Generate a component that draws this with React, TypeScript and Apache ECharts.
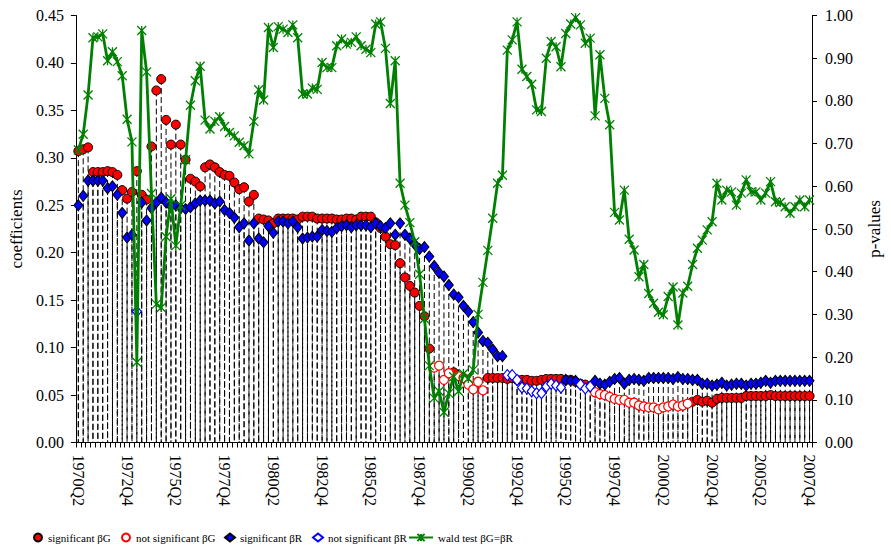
import React, { useEffect, useRef } from "react";
import * as echarts from "echarts";

// ---- categories: quarters 1970Q2 .. 2007Q4 ----
const FIRST_YEAR = 1970;
const FIRST_QUARTER = 2;
const N_QUARTERS = 151;
const quarters: string[] = [];
for (let k = 0; k < N_QUARTERS; k++) {
  const q = FIRST_QUARTER - 1 + k;
  quarters.push(`${FIRST_YEAR + Math.floor(q / 4)}Q${(q % 4) + 1}`);
}

// ---- coefficient beta G ----
const betaG: number[] = [
  0.307, 0.309, 0.311, 0.285, 0.285, 0.285, 0.286, 0.285, 0.282, 0.266,
  0.257, 0.264, 0.286, 0.261, 0.256, 0.312, 0.371, 0.383, 0.340, 0.314,
  0.335, 0.314, 0.298, 0.278, 0.275, 0.270, 0.290, 0.293, 0.290, 0.285,
  0.282, 0.281, 0.274, 0.267, 0.269, 0.254, 0.261, 0.236, 0.235, 0.234,
  0.231, 0.236, 0.236, 0.236, 0.236, 0.235, 0.238, 0.238, 0.238, 0.236,
  0.236, 0.236, 0.236, 0.235, 0.235, 0.236, 0.236, 0.235, 0.238, 0.238,
  0.238, 0.232, 0.226, 0.217, 0.209, 0.208, 0.189, 0.174, 0.165, 0.158,
  0.144, 0.133, 0.099, 0.079, 0.081, 0.066, 0.073, 0.074, 0.070, 0.068,
  0.061, 0.056, 0.064, 0.055, 0.068, 0.068, 0.068, 0.068, 0.067, 0.068,
  0.066, 0.066, 0.066, 0.065, 0.065, 0.066, 0.067, 0.067, 0.067, 0.067,
  0.066, 0.066, 0.064, 0.062, 0.061, 0.059, 0.053, 0.051, 0.050, 0.048,
  0.046, 0.045, 0.045, 0.042, 0.042, 0.039, 0.038, 0.037, 0.037, 0.035,
  0.037, 0.038, 0.040, 0.038, 0.039, 0.041, 0.043, 0.045, 0.043, 0.044,
  0.042, 0.046, 0.047, 0.047, 0.047, 0.047, 0.047, 0.049, 0.049, 0.049,
  0.049, 0.049, 0.050, 0.049, 0.049, 0.049, 0.049, 0.049, 0.049, 0.049,
  0.049,
];
const notSignificantG: number[] = [
  73, 74, 75, 76, 78, 79, 80, 81, 82, 83,
  106, 107, 108, 109, 110, 111, 112, 113, 114, 115,
  116, 117, 118, 119, 120, 121, 122, 123, 124, 125,
];

// ---- coefficient beta R ----
const betaR: number[] = [
  0.250, 0.260, 0.276, 0.276, 0.276, 0.276, 0.268, 0.270, 0.261, 0.242,
  0.216, 0.219, 0.138, 0.253, 0.234, 0.247, 0.253, 0.258, 0.253, 0.249,
  0.250, 0.247, 0.246, 0.248, 0.252, 0.255, 0.255, 0.255, 0.252, 0.254,
  0.245, 0.242, 0.237, 0.227, 0.231, 0.213, 0.231, 0.215, 0.211, 0.228,
  0.221, 0.233, 0.233, 0.231, 0.233, 0.227, 0.215, 0.216, 0.217, 0.217,
  0.224, 0.223, 0.222, 0.226, 0.228, 0.229, 0.227, 0.229, 0.229, 0.229,
  0.227, 0.231, 0.228, 0.226, 0.231, 0.219, 0.231, 0.219, 0.215, 0.209,
  0.204, 0.206, 0.196, 0.186, 0.179, 0.175, 0.166, 0.156, 0.153, 0.144,
  0.138, 0.127, 0.116, 0.107, 0.105, 0.098, 0.091, 0.091, 0.071, 0.071,
  0.066, 0.058, 0.057, 0.054, 0.052, 0.052, 0.059, 0.062, 0.060, 0.058,
  0.066, 0.065, 0.065, 0.061, 0.057, 0.059, 0.065, 0.062, 0.061, 0.064,
  0.067, 0.068, 0.062, 0.066, 0.067, 0.066, 0.065, 0.068, 0.068, 0.068,
  0.068, 0.068, 0.067, 0.069, 0.067, 0.067, 0.066, 0.066, 0.062, 0.062,
  0.060, 0.061, 0.063, 0.060, 0.061, 0.062, 0.062, 0.060, 0.062, 0.062,
  0.063, 0.065, 0.063, 0.065, 0.065, 0.065, 0.065, 0.065, 0.065, 0.065,
  0.065,
];
const notSignificantR: number[] = [
  12, 88, 89, 90, 91, 92, 93, 94, 95, 96, 97, 98, 99, 103, 104, 105,
];

// ---- wald test p-values ----
const waldP: number[] = [
  0.685, 0.722, 0.814, 0.948, 0.950, 0.957, 0.894, 0.915, 0.892, 0.859,
  0.757, 0.704, 0.188, 0.965, 0.868, 0.583, 0.324, 0.316, 0.482, 0.571,
  0.461, 0.555, 0.662, 0.790, 0.847, 0.881, 0.755, 0.734, 0.752, 0.763,
  0.740, 0.726, 0.718, 0.703, 0.695, 0.676, 0.752, 0.826, 0.802, 0.972,
  0.925, 0.974, 0.968, 0.960, 0.978, 0.948, 0.816, 0.816, 0.830, 0.827,
  0.890, 0.878, 0.878, 0.929, 0.945, 0.933, 0.937, 0.950, 0.929, 0.921,
  0.913, 0.980, 0.985, 0.923, 0.794, 0.894, 0.607, 0.556, 0.515, 0.470,
  0.394, 0.290, 0.180, 0.104, 0.120, 0.071, 0.115, 0.154, 0.120, 0.161,
  0.150, 0.170, 0.300, 0.375, 0.450, 0.525, 0.607, 0.626, 0.919, 0.943,
  0.985, 0.874, 0.857, 0.839, 0.779, 0.775, 0.900, 0.939, 0.927, 0.880,
  0.958, 0.980, 0.995, 0.978, 0.935, 0.947, 0.765, 0.908, 0.806, 0.744,
  0.539, 0.521, 0.591, 0.476, 0.451, 0.388, 0.417, 0.349, 0.326, 0.305,
  0.299, 0.342, 0.364, 0.275, 0.350, 0.366, 0.417, 0.455, 0.474, 0.498,
  0.517, 0.607, 0.568, 0.591, 0.587, 0.556, 0.584, 0.615, 0.587, 0.587,
  0.568, 0.584, 0.611, 0.564, 0.562, 0.552, 0.537, 0.552, 0.568, 0.552,
  0.568,
];

const NAMES = {
  sigG: "significant βG",
  nsG: "not significant βG",
  sigR: "significant βR",
  nsR: "not significant βR",
  wald: "wald test βG=βR",
};

const SERIF = "'Liberation Serif', 'Times New Roman', serif";
const STAR = "path://M0,0L10,10M10,0L0,10M5,0L5,10";

export default function App() {
  const ref = useRef<HTMLDivElement>(null);

  useEffect(() => {
    if (!ref.current) return;
    const chart = echarts.init(ref.current, null, { renderer: "svg" });

    const nsGSet = new Set(notSignificantG);
    const nsRSet = new Set(notSignificantR);
    const sigG = betaG.map((v, i) => (nsGSet.has(i) ? "-" : v));
    const nsG = betaG.map((v, i) => (nsGSet.has(i) ? v : "-"));
    const sigR = betaR.map((v, i) => (nsRSet.has(i) ? "-" : v));
    const nsR = betaR.map((v, i) => (nsRSet.has(i) ? v : "-"));

    const legendBase = {
      orient: "horizontal",
      top: 532,
      padding: 0,
      itemHeight: 8,
      itemWidth: 10,
      itemGap: 0,
      textStyle: { fontFamily: SERIF, fontSize: 11, color: "#000" },
      selectedMode: false,
    };

    const option: any = {
      animation: false,
      backgroundColor: "#fff",
      grid: { left: 75, right: 69, top: 15.5, bottom: 110.5, containLabel: false },
      legend: [
        { ...legendBase, left: 33, data: [NAMES.sigG] },
        { ...legendBase, left: 121, data: [NAMES.nsG] },
        { ...legendBase, left: 224, data: [NAMES.sigR] },
        { ...legendBase, left: 312, data: [NAMES.nsR] },
        { ...legendBase, left: 408, itemWidth: 24, itemHeight: 9, data: [NAMES.wald] },
      ],
      xAxis: {
        type: "category",
        data: quarters,
        boundaryGap: true,
        axisLine: { lineStyle: { color: "#000", width: 1 } },
        axisTick: { show: true, interval: 0, length: 5, lineStyle: { color: "#000" } },
        axisLabel: {
          interval: (i: number) => i % 10 === 0,
          rotate: -90,
          margin: 12,
          fontFamily: SERIF,
          fontSize: 16,
          color: "#000",
        },
        splitLine: { show: false },
      },
      yAxis: [
        {
          type: "value",
          position: "left",
          min: 0,
          max: 0.45,
          interval: 0.05,
          name: "coefficients",
          nameLocation: "middle",
          nameRotate: 90,
          nameGap: 46,
          nameTextStyle: { fontFamily: SERIF, fontSize: 17, color: "#000" },
          axisLine: { show: true, lineStyle: { color: "#000" } },
          axisTick: { show: true, length: 5, lineStyle: { color: "#000" } },
          axisLabel: {
            formatter: (v: number) => v.toFixed(2),
            margin: 12,
            fontFamily: SERIF,
            fontSize: 16,
            color: "#000",
          },
          splitLine: { show: false },
        },
        {
          type: "value",
          position: "right",
          min: 0,
          max: 1,
          interval: 0.1,
          name: "p-values",
          nameLocation: "middle",
          nameRotate: 90,
          nameGap: 54,
          nameTextStyle: { fontFamily: SERIF, fontSize: 17, color: "#000" },
          axisLine: { show: true, lineStyle: { color: "#000" } },
          axisTick: { show: true, length: 5, lineStyle: { color: "#000" } },
          axisLabel: {
            formatter: (v: number) => v.toFixed(2),
            margin: 13,
            fontFamily: SERIF,
            fontSize: 16,
            color: "#000",
          },
          splitLine: { show: false },
        },
      ],
      series: [
        {
          type: "custom",
          name: "drop lines",
          silent: true,
          z: 1,
          yAxisIndex: 0,
          data: betaG.map((g, i) => [i, g, betaR[i]]),
          encode: { x: 0, y: [1, 2] },
          renderItem: (_params: any, api: any) => {
            const i = api.value(0);
            const p0 = api.coord([i, 0]);
            const pg = api.coord([i, api.value(1)]);
            const pr = api.coord([i, api.value(2)]);
            return {
              type: "group",
              children: [
                {
                  type: "line",
                  shape: { x1: pg[0], y1: pg[1], x2: p0[0], y2: p0[1] },
                  style: { stroke: "#000", lineWidth: 1, lineDash: [6, 3] },
                },
                {
                  type: "line",
                  shape: { x1: pr[0], y1: pr[1], x2: p0[0], y2: p0[1] },
                  style: { stroke: "#000", lineWidth: 1, lineDash: [6, 3] },
                },
              ],
            };
          },
        },
        {
          type: "scatter",
          name: NAMES.sigG,
          data: sigG,
          symbol: "circle",
          symbolSize: 9,
          z: 3,
          itemStyle: { color: "#ff0000", borderColor: "#000", borderWidth: 1, opacity: 1 },
        },
        {
          type: "scatter",
          name: NAMES.nsG,
          data: nsG,
          symbol: "circle",
          symbolSize: 9,
          z: 3,
          itemStyle: { color: "#fff", borderColor: "#ff0000", borderWidth: 1.2, opacity: 1 },
        },
        {
          type: "scatter",
          name: NAMES.sigR,
          data: sigR,
          symbol: "diamond",
          symbolSize: [9, 11],
          z: 4,
          itemStyle: { color: "#0000ff", borderColor: "#000", borderWidth: 1, opacity: 1 },
        },
        {
          type: "scatter",
          name: NAMES.nsR,
          data: nsR,
          symbol: "diamond",
          symbolSize: [9, 11],
          z: 4,
          itemStyle: { color: "#fff", borderColor: "#0000ff", borderWidth: 1.2, opacity: 1 },
        },
        {
          type: "line",
          name: NAMES.wald,
          yAxisIndex: 1,
          data: waldP,
          z: 5,
          symbol: STAR,
          symbolSize: 9,
          showAllSymbol: true,
          lineStyle: { color: "#008000", width: 2.8 },
          itemStyle: { color: "#008000", borderColor: "#008000", borderWidth: 1.3 },
        },
      ],
    };

    chart.setOption(option);
    return () => chart.dispose();
  }, []);

  return (
    <div
      ref={ref}
      style={{ position: "fixed", left: 0, top: 0, width: 891, height: 553, background: "#fff" }}
    />
  );
}
